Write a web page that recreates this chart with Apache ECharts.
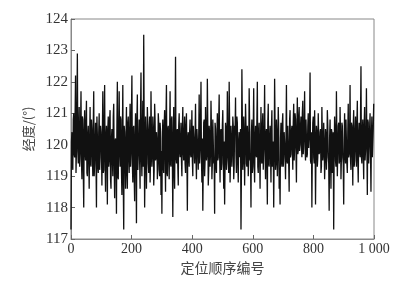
<!DOCTYPE html>
<html>
<head>
<meta charset="utf-8">
<script src="https://cdn.jsdelivr.net/npm/echarts@6/dist/echarts.min.js"></script>
<style>html,body{margin:0;padding:0;background:#fff}#c{width:409px;height:288px}</style>
</head>
<body>
<div id="c"></div>
<script>
// sample spacing along the x axis (position index step)
const sampleStep = 3;
// readings at positions 0, 3, 6, ...
const longitudeValues = [
117.3,120.4,119.2,121.0,119.6,122.2,119.8,122.9,119.4,121.2,
119.7,121.7,118.9,120.8,118.0,121.1,119.5,121.4,119.0,120.6,
118.6,121.2,119.3,120.5,119.0,121.7,119.4,120.7,118.0,120.3,
119.1,121.0,119.6,120.4,118.7,121.7,119.2,121.9,118.5,120.6,
118.1,120.9,119.5,121.1,118.6,120.5,119.0,121.3,118.3,120.2,
117.8,122.0,118.9,121.7,119.3,120.8,118.4,121.9,117.3,120.4,
118.6,121.2,118.6,120.9,119.1,121.3,119.7,122.2,118.8,120.6,
118.2,121.0,117.5,121.6,119.2,120.8,118.6,122.3,119.0,121.4,
123.5,118.0,120.9,118.6,121.2,119.4,120.5,118.8,121.7,119.3,
120.9,118.7,121.3,119.5,120.4,118.9,121.0,119.2,120.7,118.4,
117.8,120.8,119.1,121.1,118.5,121.9,119.0,120.6,118.9,121.7,
119.3,120.9,117.7,121.2,118.6,122.8,119.4,120.5,118.7,121.0,
119.6,120.7,119.0,121.2,119.5,120.9,119.1,121.0,117.9,120.4,
119.3,120.8,119.6,121.1,119.0,120.6,119.4,121.3,118.9,120.5,
119.2,121.6,119.8,122.0,118.8,117.9,120.7,119.0,121.2,119.5,
122.1,118.7,120.6,119.3,121.4,118.9,120.8,119.4,117.8,120.5,
119.1,121.0,119.6,121.6,118.8,120.5,119.4,121.1,118.6,118.1,
120.7,119.2,121.7,119.5,122.0,118.8,120.6,119.3,120.9,118.9,
120.6,121.5,119.1,120.7,118.8,120.4,119.6,117.3,122.4,119.2,
120.9,118.7,121.3,119.4,120.6,119.0,121.8,119.5,118.0,120.8,
119.3,121.8,118.8,120.6,119.6,122.0,119.1,120.7,118.6,121.2,
119.4,121.0,119.8,121.9,118.9,120.5,118.1,121.3,119.3,120.6,
118.8,121.1,119.5,118.0,122.1,119.2,120.8,119.0,121.2,118.6,
118.1,120.7,119.3,121.0,119.6,120.4,118.9,121.9,119.4,120.6,
118.5,121.1,119.7,120.6,119.2,121.3,119.9,120.8,118.8,121.5,
119.8,121.2,120.0,120.9,119.6,121.4,120.1,121.7,119.5,120.8,
119.7,121.0,120.2,122.3,119.4,118.0,120.7,119.6,121.1,118.1,
120.6,119.3,121.0,119.7,120.4,119.1,121.2,119.5,120.7,118.9,
120.5,119.2,121.1,119.6,117.9,120.8,118.6,120.4,119.3,117.3,
120.9,119.5,121.7,119.0,120.6,119.4,121.2,118.9,120.7,119.6,
118.1,121.0,119.4,120.8,119.1,121.3,119.7,121.9,119.2,120.6,
118.7,121.1,119.5,120.9,119.3,121.4,118.8,120.7,119.6,122.5,
119.4,120.8,118.9,121.2,119.8,121.8,118.4,120.7,119.4,121.0,
118.5,120.9,119.6,121.3
];
// readings at positions 1.5, 4.5, 7.5, ...
const longitudeValuesMid = [
120.1,119.4,120.8,119.7,120.9,119.1,121.0,119.8,120.5,119.3,
120.6,119.5,120.9,119.2,120.4,119.8,120.7,119.1,120.3,119.6,
120.2,119.4,120.8,119.7,120.6,119.0,120.1,119.5,120.9,119.3,
120.4,119.2,120.6,119.8,120.3,119.1,120.7,119.5,120.2,119.9,
120.5,119.3,120.8,118.9,120.2,119.6,120.9,119.4,120.1,119.7,
120.6,119.0,120.4,119.8,120.9,119.2,120.3,118.8,120.6,119.5,
120.2,119.1,120.7,119.6,120.4,119.3,121.0,119.4,120.5,119.0,
120.3,119.7,120.8,119.2,120.1,119.5,121.1,119.6,120.4,119.3,
120.7,119.4,120.2,119.8,120.6,119.1,120.9,119.5,120.3,119.7,
120.5,119.2,120.8,119.6,120.1,119.4,120.7,119.0,120.4,119.8,
120.2,119.3,120.6,119.7,120.9,119.1,120.5,119.6,120.3,119.4,
120.8,119.5,120.1,119.2,120.7,119.6,120.4,119.3,120.6,119.8,
120.1,119.5,120.5,119.8,120.3,119.4,120.6,119.7,120.2,119.6,
120.4,119.7,120.2,119.5,120.6,119.9,120.3,119.6,120.5,119.8,
120.3,119.4,120.7,119.6,120.2,119.3,120.8,119.5,120.4,119.7,
120.6,119.2,120.3,119.8,120.5,119.4,120.1,119.6,120.7,119.3,
120.2,119.5,120.8,119.7,120.4,119.2,120.6,119.8,120.1,119.4,
120.5,119.6,120.3,119.1,120.7,119.5,120.2,119.8,120.6,119.3,
120.4,119.7,120.9,119.4,120.1,119.6,120.5,119.2,120.8,119.5,
120.3,119.8,120.6,119.3,120.2,119.5,120.7,119.6,120.4,119.1,
120.5,119.4,120.2,119.7,120.8,119.3,120.4,119.6,120.1,119.5,
120.6,119.2,120.4,119.8,120.3,119.5,120.7,119.4,120.2,119.7,
120.5,119.3,120.1,119.6,120.6,119.4,120.3,119.8,120.5,119.2,
120.2,119.5,120.7,119.3,120.4,119.7,120.2,119.5,120.6,119.4,
120.8,119.6,120.4,119.9,120.7,119.5,121.0,119.8,120.5,119.7,
120.9,119.8,120.6,120.0,121.0,119.7,120.5,119.9,120.8,119.6,
120.6,119.9,120.8,119.5,120.4,119.8,120.9,119.4,120.3,119.7,
120.4,119.6,120.2,119.8,120.5,119.3,120.3,119.7,120.1,119.5,
120.3,119.8,120.6,119.4,120.2,119.6,120.5,119.1,120.4,119.7,
120.5,119.3,120.1,119.8,120.7,119.5,120.3,119.6,120.6,119.4,
120.2,119.7,120.8,119.4,120.4,119.6,120.2,119.5,120.7,119.8,
120.6,119.3,120.4,119.9,120.7,119.5,120.3,119.8,120.9,119.6,
120.4,119.7,120.6,119.5,120.2,119.9,120.8,119.4,120.5,119.7,
120.3,119.6,120.5
];
const xTickLabels = ['0','200','400','600','800','1 000'];
const yTickLabels = ['117','118','119','120','121','122','123','124'];
const xAxisName = '定位顺序编号';
const yAxisName = '经度/(°)';

const seriesData = [];
longitudeValues.forEach((v, i) => {
  seriesData.push([i * sampleStep, v]);
  if (i < longitudeValuesMid.length) seriesData.push([i * sampleStep + sampleStep / 2, longitudeValuesMid[i]]);
});

const chart = echarts.init(document.getElementById('c'), null, {renderer: 'canvas'});
const serif = '"Liberation Serif","DejaVu Serif",serif';
const cjk = '"Noto Sans CJK SC","Noto Sans",sans-serif';
chart.setOption({
  animation: false,
  backgroundColor: '#fff',
  grid: {left: 71, right: 35, top: 19, bottom: 49, show: true, borderColor: '#888', borderWidth: 1, backgroundColor: 'transparent'},
  xAxis: {
    type: 'value', min: 0, max: 1000, interval: 200,
    name: xAxisName, nameLocation: 'middle', nameGap: 22,
    nameTextStyle: {fontFamily: cjk, fontSize: 14, color: '#444'},
    axisLine: {show: true, lineStyle: {color: '#888', width: 1}},
    axisTick: {show: true, inside: true, length: 4, lineStyle: {color: '#666'}},
    axisLabel: {fontFamily: serif, fontSize: 14, color: '#333', margin: 3,
      formatter: v => xTickLabels[Math.round(v / 200)]},
    splitLine: {show: false}
  },
  yAxis: {
    type: 'value', min: 117, max: 124, interval: 1,
    name: yAxisName, nameLocation: 'middle', nameGap: 32,
    nameTextStyle: {fontFamily: cjk, fontSize: 13, color: '#444'},
    axisLine: {show: true, lineStyle: {color: '#888', width: 1}},
    axisTick: {show: true, inside: true, length: 4, lineStyle: {color: '#666'}},
    axisLabel: {fontFamily: serif, fontSize: 15, color: '#333', margin: 3,
      formatter: v => yTickLabels[Math.round(v - 117)]},
    splitLine: {show: false}
  },
  series: [{
    type: 'line', data: seriesData, showSymbol: false, symbol: 'none',
    lineStyle: {color: '#111', width: 1.3}, clip: true
  }]
});
</script>
</body>
</html>
